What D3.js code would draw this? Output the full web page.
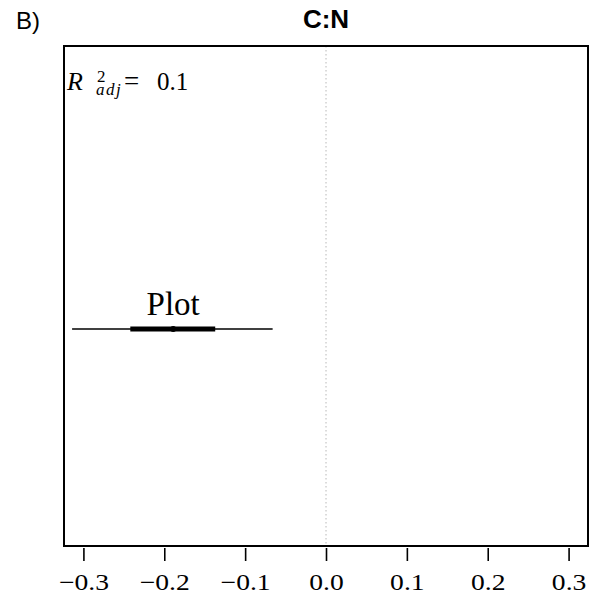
<!DOCTYPE html>
<html><head><meta charset="utf-8">
<script src="https://cdn.jsdelivr.net/npm/d3@7"></script>
<style>html,body{margin:0;padding:0;background:#fff;} svg{display:block;}</style>
</head><body>
<svg id="chart" width="591" height="602"></svg>
<script>
const labels = ["Plot"];
const estimate = [-0.189];
const lo95 = [-0.314];
const hi95 = [-0.066];
const lo50 = [-0.242];
const hi50 = [-0.137];
const xTicks = [-0.3, -0.2, -0.1, 0.0, 0.1, 0.2, 0.3];
const tickLabels = ["\u22120.3", "\u22120.2", "\u22120.1", "0.0", "0.1", "0.2", "0.3"];
const title = "C:N";
const panel = "B)";
const r2 = "0.1";

const svg = d3.select("#chart");
const L = 64, R = 588, T = 46, B = 546;
const x = d3.scaleLinear().domain([-0.324, 0.324]).range([L, R]);
const y = d3.scaleLinear().domain([0.5, 1.652]).range([B, T]);
const serif = "'Liberation Serif','Times New Roman',serif";
const sans = "'Liberation Sans',Arial,sans-serif";

// zero reference line
svg.append("line").attr("x1", x(0)).attr("x2", x(0)).attr("y1", T).attr("y2", B)
  .attr("stroke", "#b8b8b8").attr("stroke-width", 1).attr("stroke-dasharray", "1.5,2.5");

// box
svg.append("rect").attr("x", L).attr("y", T).attr("width", R - L).attr("height", B - T)
  .attr("fill", "none").attr("stroke", "#000").attr("stroke-width", 2);

// axis
const axis = d3.axisBottom(x).tickValues(xTicks).tickSize(13).tickFormat((d, i) => tickLabels[i]);
const ag = svg.append("g").attr("transform", `translate(0,${B + 2})`).call(axis);
ag.select(".domain").remove();
ag.selectAll(".tick line").attr("stroke", "#000").attr("stroke-width", 1.6);
ag.selectAll(".tick text").attr("y", 0).attr("dy", 0)
  .attr("font-family", serif).attr("font-size", 23).attr("fill", "#000")
  .attr("transform", "translate(0,42) scale(1.2,1)");

// rows
const rows = labels.map((l, i) => ({ l, i, e: estimate[i], a: lo95[i], b: hi95[i], c: lo50[i], d: hi50[i] }));
const g = svg.append("g");
g.selectAll(".thin").data(rows).join("line")
  .attr("x1", d => x(d.a)).attr("x2", d => x(d.b))
  .attr("y1", d => y(1 + d.i)).attr("y2", d => y(1 + d.i))
  .attr("stroke", "#000").attr("stroke-width", 1.6);
g.selectAll(".thick").data(rows).join("line")
  .attr("x1", d => x(d.c)).attr("x2", d => x(d.d))
  .attr("y1", d => y(1 + d.i)).attr("y2", d => y(1 + d.i))
  .attr("stroke", "#000").attr("stroke-width", 5);
g.selectAll(".pt").data(rows).join("circle")
  .attr("cx", d => x(d.e)).attr("cy", d => y(1 + d.i)).attr("r", 3).attr("fill", "#000");
g.selectAll(".lab").data(rows).join("text")
  .attr("x", d => x(d.e)).attr("y", d => y(1 + d.i) - 14)
  .attr("text-anchor", "middle").attr("font-family", serif).attr("font-size", 33)
  .text(d => d.l);

// title and panel label
svg.append("text").attr("x", 326).attr("y", 28).attr("text-anchor", "middle")
  .attr("font-family", sans).attr("font-weight", "bold").attr("font-size", 26).text(title);
svg.append("text").attr("x", 16).attr("y", 29)
  .attr("font-family", sans).attr("font-size", 24).text(panel);

// R^2 adj as one text element
const rt = svg.append("text").attr("font-family", serif).attr("fill", "#000");
rt.append("tspan").attr("x", 67).attr("y", 90).attr("font-style", "italic").attr("font-size", 26).text("R");
rt.append("tspan").attr("x", 97).attr("y", 82).attr("font-size", 17).text("2");
rt.append("tspan").attr("x", 96).attr("y", 95).attr("font-style", "italic").attr("font-size", 17)
  .attr("letter-spacing", 1.5).text("adj");
rt.append("tspan").attr("x", 124).attr("y", 90).attr("font-size", 27).text("=");
rt.append("tspan").attr("x", 157).attr("y", 90).attr("font-size", 25).text(r2);
</script>
</body></html>
